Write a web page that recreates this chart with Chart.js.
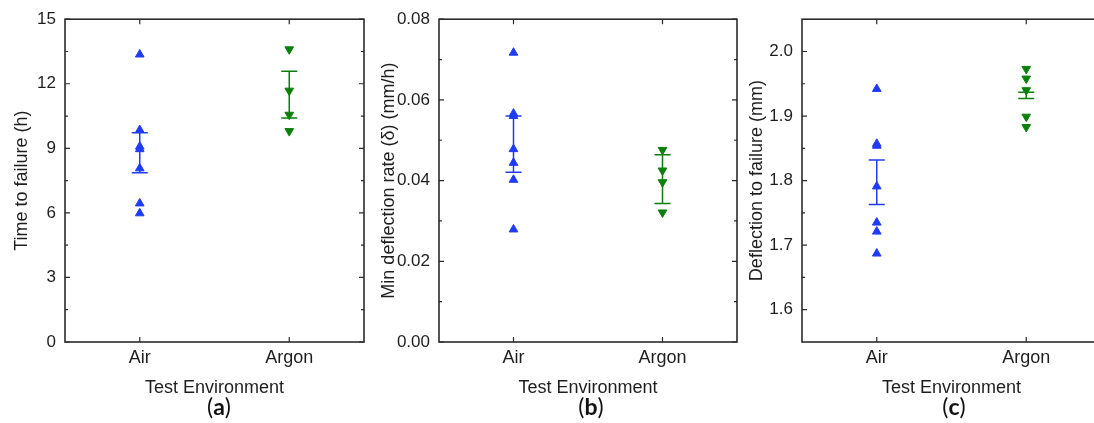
<!DOCTYPE html>
<html>
<head>
<meta charset="utf-8">
<script src="https://cdn.jsdelivr.net/npm/chart.js@4"></script>
<style>
  html, body { margin: 0; background: #fff; }
  #wrap { position: relative; width: 1094px; height: 423px; overflow: hidden; }
  .panel { position: absolute; top: 0; height: 423px; }
  .tag { position: absolute; top: 392px; font-family: Lato, "Noto Sans", sans-serif; font-size: 23px; color: #111; transform: translateX(-50%); }
</style>
</head>
<body>
<div id="wrap">
  <div class="panel" style="left:0;width:380px"><canvas id="chartA" width="380" height="423"></canvas></div>
  <div class="panel" style="left:370px;width:385px"><canvas id="chartB" width="385" height="423"></canvas></div>
  <div class="panel" style="left:735px;width:406px"><canvas id="chartC" width="406" height="423"></canvas></div>
  <div class="tag" style="left:219px">(<b>a</b>)</div>
  <div class="tag" style="left:591px">(<b>b</b>)</div>
  <div class="tag" style="left:954px">(<b>c</b>)</div>
</div>

<script>
// data

const categories = ['Air', 'Argon'];

const timeAir = [13.36, 9.85, 9.08, 8.96, 8.07, 6.44, 5.98];
const timeArgon = [13.6, 11.68, 10.56, 9.8];
const timeErrAir = [7.86, 9.72];
const timeErrArgon = [10.41, 12.58];
const timeTicks = [0, 3, 6, 9, 12, 15];

const rateAir = [0.0717, 0.0566, 0.0560, 0.0478, 0.0444, 0.0402, 0.0279];
const rateArgon = [0.0476, 0.0425, 0.0396, 0.0321];
const rateErrAir = [0.0421, 0.0560];
const rateErrArgon = [0.0343, 0.0464];
const rateTicks = [0, 0.02, 0.04, 0.06, 0.08];

const deflAir = [1.942, 1.857, 1.854, 1.791, 1.735, 1.721, 1.687];
const deflArgon = [1.973, 1.958, 1.940, 1.899, 1.883];
const deflErrAir = [1.763, 1.832];
const deflErrArgon = [1.927, 1.937];
const deflTicks = [1.6, 1.7, 1.8, 1.9, 2.0];

const blue = '#1f3cf5';
const green = '#0a800a';
const ink = '#1e1e1e';
const family = '"Liberation Sans", Arial, sans-serif';
const xFont = { family: family, size: 18 };
const yFont = { family: family, size: 17 };
const titleFont = { family: family, size: 18 };


// frame with inward ticks on all four sides
const framePlugin = {
    id: 'frame',
    afterDraw(chart) {
        const { ctx, chartArea: a, scales: { x, y } } = chart;
        const major = y.ticks.map(t => t.value);
        const minor = major.slice(1).map((v, i) => (v + major[i]) / 2);

        ctx.save();
        ctx.strokeStyle = '#2b2b2b';
        ctx.lineWidth = 1.2;
        ctx.beginPath();
        major.forEach(v => {
            const py = y.getPixelForValue(v);
            ctx.moveTo(a.left, py); ctx.lineTo(a.left + 5, py);
            ctx.moveTo(a.right, py); ctx.lineTo(a.right - 5, py);
        });
        minor.forEach(v => {
            const py = y.getPixelForValue(v);
            ctx.moveTo(a.left, py); ctx.lineTo(a.left + 3, py);
            ctx.moveTo(a.right, py); ctx.lineTo(a.right - 3, py);
        });
        x.ticks.forEach(t => {
            const px = x.getPixelForValue(t.value);
            ctx.moveTo(px, a.bottom); ctx.lineTo(px, a.bottom - 5);
            ctx.moveTo(px, a.top); ctx.lineTo(px, a.top + 5);
        });
        ctx.stroke();

        ctx.lineWidth = 1.6;
        ctx.strokeRect(a.left, a.top, a.right - a.left, a.bottom - a.top);
        ctx.restore();
    }
};

// error bars with caps
const errorBarPlugin = {
    id: 'errorBars',
    afterDatasetsDraw(chart, args, opts) {
        const { ctx, scales: { x, y } } = chart;
        ctx.save();
        ctx.lineWidth = 1.5;
        opts.bars.forEach(bar => {
            const px = x.getPixelForValue(bar.x);
            const lo = y.getPixelForValue(bar.range[0]);
            const hi = y.getPixelForValue(bar.range[1]);
            ctx.strokeStyle = bar.color;
            ctx.beginPath();
            ctx.moveTo(px, lo); ctx.lineTo(px, hi);
            ctx.moveTo(px - 8, lo); ctx.lineTo(px + 8, lo);
            ctx.moveTo(px - 8, hi); ctx.lineTo(px + 8, hi);
            ctx.stroke();
        });
        ctx.restore();
    }
};


function makePanel(id, p) {

    new Chart(document.getElementById(id), {

        type: 'scatter',

        data: {
            datasets: [{
                data: p.air.map(v => ({ x: 1, y: v })),
                pointStyle: 'triangle',
                radius: 5,
                backgroundColor: blue,
                borderColor: blue,
                borderWidth: 1
            }, {
                data: p.argon.map(v => ({ x: 2, y: v })),
                pointStyle: 'triangle',
                rotation: 180,
                radius: 5,
                backgroundColor: green,
                borderColor: green,
                borderWidth: 1
            }]
        },

        options: {
            responsive: false,
            animation: false,
            layout: {
                padding: { left: 0, top: 15, right: p.padRight, bottom: 0 }
            },
            plugins: {
                legend: { display: false },
                tooltip: { enabled: false },
                errorBars: {
                    bars: [
                        { x: 1, range: p.airErr, color: blue },
                        { x: 2, range: p.argonErr, color: green }
                    ]
                }
            },
            scales: {
                x: {
                    type: 'linear',
                    min: 0.5,
                    max: 2.5,
                    grid: { display: false, drawTicks: false },
                    border: { display: false },
                    afterBuildTicks: s => { s.ticks = [1, 2].map(v => ({ value: v })); },
                    afterFit: s => { s.height = 81; },
                    ticks: {
                        callback: v => categories[v - 1],
                        font: xFont,
                        color: ink,
                        padding: 5,
                        maxRotation: 0,
                        autoSkip: false
                    },
                    title: {
                        display: true,
                        text: 'Test Environment',
                        font: titleFont,
                        color: ink,
                        padding: { top: 0, bottom: 24 }
                    }
                },
                y: {
                    min: p.min,
                    max: p.max,
                    grid: { display: false, drawTicks: false },
                    border: { display: false },
                    afterBuildTicks: s => { s.ticks = p.ticks.map(v => ({ value: v })); },
                    afterFit: s => { s.width = p.axisWidth; },
                    ticks: {
                        callback: v => v.toFixed(p.decimals),
                        font: yFont,
                        color: ink,
                        padding: 9
                    },
                    title: {
                        display: true,
                        text: p.title,
                        font: titleFont,
                        color: ink,
                        padding: { top: p.titlePad, bottom: 0 }
                    }
                }
            }
        },

        plugins: [framePlugin, errorBarPlugin]
    });
}


makePanel('chartA', {
    air: timeAir, argon: timeArgon, airErr: timeErrAir, argonErr: timeErrArgon,
    ticks: timeTicks, min: 0, max: 15, decimals: 0,
    title: 'Time to failure (h)',
    axisWidth: 65, titlePad: 11, padRight: 16
});

makePanel('chartB', {
    air: rateAir, argon: rateArgon, airErr: rateErrAir, argonErr: rateErrArgon,
    ticks: rateTicks, min: 0, max: 0.08, decimals: 2,
    title: 'Min deflection rate (δ) (mm/h)',
    axisWidth: 69, titlePad: 8, padRight: 18
});

makePanel('chartC', {
    air: deflAir, argon: deflArgon, airErr: deflErrAir, argonErr: deflErrArgon,
    ticks: deflTicks, min: 1.55, max: 2.05, decimals: 1,
    title: 'Deflection to failure (mm)',
    axisWidth: 67, titlePad: 11, padRight: 40
});
</script>
</body>
</html>
